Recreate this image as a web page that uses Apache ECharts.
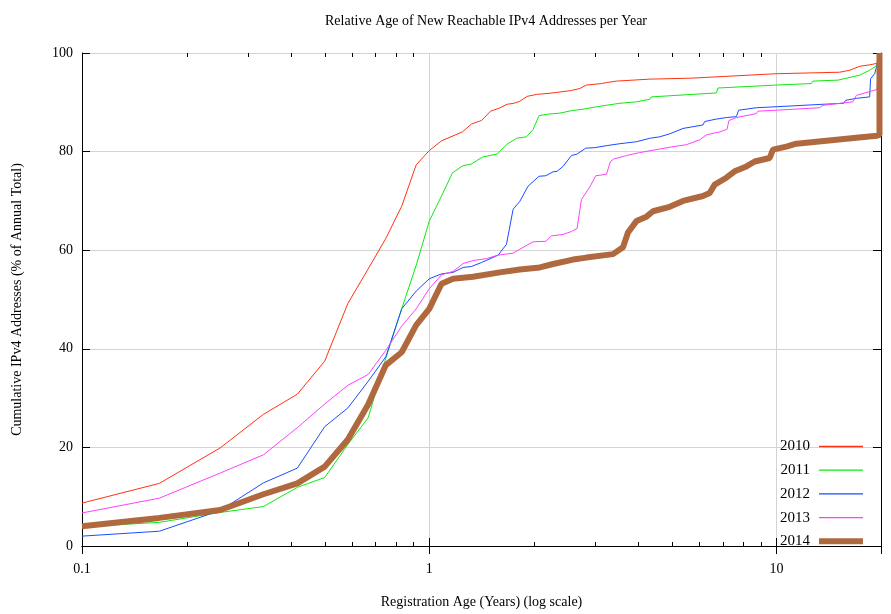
<!DOCTYPE html>
<html>
<head>
<meta charset="utf-8">
<title>Relative Age of New Reachable IPv4 Addresses per Year</title>
<script src="https://cdn.jsdelivr.net/npm/echarts@6/dist/echarts.min.js"></script>
<style>
  html, body { margin: 0; padding: 0; background: #fff; }
  #chart { width: 891px; height: 614px; }
</style>
</head>
<body>
<div id="chart"></div>
<script>
// [age in years, cumulative % of annual total]
var years = ['2010', '2011', '2012', '2013', '2014'];

var y2010 = [[0.1, 8.7], [0.167, 12.7], [0.25, 19.9], [0.333, 26.7], [0.417, 30.8], [0.5, 37.5],
    [0.583, 49.2], [0.667, 56.2], [0.75, 62.4], [0.833, 68.9], [0.917, 77.3], [1.0, 80.2],
    [1.085, 82.2], [1.247, 84.0], [1.323, 85.6], [1.414, 86.3], [1.502, 88.2], [1.59, 88.8],
    [1.676, 89.6], [1.752, 89.8], [1.823, 90.2], [1.914, 91.2], [2.037, 91.6], [2.199, 91.8],
    [2.325, 92.0], [2.568, 92.4], [2.714, 92.8], [2.836, 93.5], [3.133, 93.8], [3.239, 94.0],
    [3.46, 94.3], [4.315, 94.7], [5.7, 94.9], [5.75, 95.3], [10, 95.8], [15.2, 96.1],
    [16.25, 96.5], [17.35, 97.3], [18.55, 97.6], [19.47, 97.9], [19.8, 100]];

var y2011 = [[0.1, 3.9], [0.167, 4.8], [0.25, 6.8], [0.333, 8.0], [0.417, 11.9], [0.5, 13.9],
    [0.583, 20.6], [0.667, 26.0], [0.75, 38.1], [0.833, 48.1], [0.917, 56.9], [1.0, 65.9],
    [1.085, 71.0], [1.167, 75.7], [1.247, 77.1], [1.323, 77.5], [1.424, 78.9], [1.568, 79.5],
    [1.676, 81.5], [1.783, 82.7], [1.906, 83.0], [1.991, 84.5], [2.072, 87.3], [2.199, 87.6],
    [2.377, 87.8], [2.568, 88.3], [2.773, 88.6], [3.031, 89.1], [3.239, 89.4], [3.537, 89.8],
    [3.951, 90.1], [4.315, 90.6], [4.364, 91.1], [6.714, 91.9], [6.785, 92.9], [10, 93.5],
    [12.6, 93.8], [12.74, 94.3], [15.04, 94.5], [15.21, 94.9], [17.35, 95.5], [18.55, 96.5],
    [19.47, 97.5], [19.8, 100]];

var y2012 = [[0.1, 2.0], [0.167, 3.0], [0.25, 7.2], [0.333, 12.8], [0.417, 15.8], [0.5, 24.2],
    [0.583, 28.0], [0.667, 33.4], [0.75, 38.4], [0.833, 48.1], [0.917, 51.7], [1.0, 54.2],
    [1.085, 55.2], [1.171, 55.5], [1.252, 56.5], [1.323, 56.7], [1.414, 57.5], [1.579, 59.0],
    [1.669, 61.2], [1.744, 68.3], [1.823, 69.9], [1.926, 73.0], [2.072, 75.0], [2.166, 75.1],
    [2.273, 75.9], [2.334, 76.0], [2.429, 77.0], [2.568, 79.2], [2.665, 79.5], [2.823, 80.7],
    [2.997, 80.8], [3.239, 81.2], [3.537, 81.6], [3.951, 82.0], [4.315, 82.7], [4.611, 83.0],
    [4.927, 83.6], [5.381, 84.7], [5.442, 85.0], [6.143, 85.4], [6.213, 86.1], [6.714, 86.6],
    [7.174, 86.9], [7.666, 87.1], [7.783, 88.4], [8.755, 88.9], [10, 89.1], [13.61, 89.6],
    [15.62, 89.8], [15.82, 90.4], [16.98, 90.8], [18.55, 91.1], [18.67, 94.8], [19.18, 95.8],
    [19.47, 97.5], [19.8, 100]];

var y2013 = [[0.1, 6.7], [0.167, 9.7], [0.25, 14.8], [0.333, 18.5], [0.417, 24.0], [0.5, 28.8],
    [0.583, 32.6], [0.667, 34.8], [0.75, 39.7], [0.833, 44.6], [0.917, 48.1], [1.0, 52.2],
    [1.085, 55.0], [1.171, 55.7], [1.252, 57.3], [1.337, 57.9], [1.462, 58.3], [1.579, 59.0],
    [1.744, 59.4], [1.823, 60.2], [1.991, 61.7], [2.166, 61.8], [2.249, 62.9], [2.429, 63.2],
    [2.568, 63.8], [2.665, 64.4], [2.744, 70.3], [2.899, 72.8], [3.017, 75.1], [3.239, 75.4],
    [3.326, 78.0], [3.399, 78.5], [3.697, 79.2], [4.038, 79.8], [5.036, 81.0], [5.504, 81.4],
    [6.01, 82.4], [6.284, 83.4], [6.862, 84.0], [7.202, 84.5], [7.299, 86.3], [7.666, 86.9],
    [8.755, 87.7], [8.848, 88.2], [10, 88.4], [13.32, 88.9], [13.61, 89.4], [16.61, 90.1],
    [16.98, 91.4], [19.47, 92.6], [19.8, 100]];

var y2014 = [[0.1, 4.0], [0.167, 5.7], [0.25, 7.3], [0.333, 10.5], [0.417, 12.7], [0.5, 16.1],
    [0.583, 21.6], [0.667, 28.7], [0.75, 36.7], [0.833, 39.3], [0.917, 44.8], [1.0, 48.1],
    [1.085, 53.2], [1.171, 54.2], [1.337, 54.6], [1.597, 55.5], [1.823, 56.1], [2.082, 56.5],
    [2.273, 57.2], [2.596, 58.1], [2.836, 58.5], [3.383, 59.2], [3.614, 60.6], [3.736, 63.6],
    [3.951, 65.9], [4.222, 66.8], [4.411, 67.9], [4.927, 68.8], [5.381, 70.0], [6.143, 71.0],
    [6.423, 71.6], [6.637, 73.3], [7.174, 74.7], [7.58, 76.0], [8.192, 77.0], [8.656, 78.0],
    [9.56, 78.7], [9.77, 80.4], [10.68, 81.0], [11.41, 81.6], [13.92, 82.2], [16.98, 82.8],
    [19.47, 83.2], [19.8, 83.4], [19.8, 100]];

// gnuplot style minor ticks on the log axis
var minorTicks = [0.2, 0.3, 0.4, 0.5, 0.6, 0.7, 0.8, 0.9, 2, 3, 4, 5, 6, 7, 8, 9];

var colors = ['#ff3311', '#11e811', '#1a4cff', '#ff40ff', '#b0693e'];
var widths = [1, 1, 1, 1, 6];
var font = 'Liberation Serif';

function lineSeries(name, data, i) {
    return {
        name: name,
        type: 'line',
        data: data,
        symbol: 'none',
        color: colors[i],
        lineStyle: { color: colors[i], width: widths[i] },
        z: 4 + i
    };
}

// frame axis: black line + inward ticks, grid lines are drawn by separate axes underneath
function frameX(pos, extra) {
    var ax = {
        type: 'log', logBase: 10, min: 0.1, max: 20, position: pos, z: 3,
        axisLine: { show: true, lineStyle: { color: '#000', width: 1 } },
        axisTick: { show: true, inside: true, length: 8, lineStyle: { color: '#000' } },
        axisLabel: { show: false },
        splitLine: { show: false }
    };
    return Object.assign(ax, extra || {});
}
function frameY(pos, extra) {
    var ax = {
        type: 'value', min: 0, max: 100, interval: 20, position: pos, z: 3,
        axisLine: { show: true, lineStyle: { color: '#000', width: 1 } },
        axisTick: { show: true, inside: true, length: 8, lineStyle: { color: '#000' } },
        axisLabel: { show: false },
        splitLine: { show: false }
    };
    return Object.assign(ax, extra || {});
}
var gridLine = { show: true, lineStyle: { color: '#d4d4d4', width: 1 } };
var hidden = { show: false };

var myChart = echarts.init(document.getElementById('chart'));

var option = {
    animation: false,
    backgroundColor: '#fff',
    textStyle: { fontFamily: font, color: '#000' },
    title: {
        text: 'Relative Age of New Reachable IPv4 Addresses per Year',
        left: 481,
        textAlign: 'center',
        top: 9,
        textStyle: { fontFamily: font, fontSize: 14, fontWeight: 'normal', color: '#000' }
    },
    grid: { left: 82, right: 10, top: 53, bottom: 65 },
    legend: {
        orient: 'vertical',
        right: 23,
        top: 434,
        align: 'right',
        itemWidth: 44,
        itemHeight: 14,
        itemGap: 8.7,
        itemStyle: { borderWidth: 0 },
        textStyle: { fontFamily: font, fontSize: 15, color: '#000', padding: [0, 4, 0, 0] },
        data: years.map(function (y, i) {
            var h = i === 4 ? 6 : 1.3;
            return { name: y, icon: 'path://M0,0L44,0L44,' + h + 'L0,' + h + 'Z' };
        })
    },
    xAxis: [
        frameX('bottom', {
            name: 'Registration Age (Years) (log scale)',
            nameLocation: 'middle',
            nameGap: 49,
            nameTextStyle: { fontFamily: font, fontSize: 14, color: '#000' },
            axisLabel: { show: true, fontFamily: font, fontSize: 14, color: '#000', margin: 16, showMaxLabel: false }
        }),
        frameX('top'),
        frameX('bottom', { z: 0, axisLine: hidden, axisTick: hidden, splitLine: gridLine })
    ],
    yAxis: [
        frameY('left', {
            name: 'Cumulative IPv4 Addresses (% of Annual Total)',
            nameLocation: 'middle',
            nameGap: 58,
            nameTextStyle: { fontFamily: font, fontSize: 14, color: '#000' },
            axisLabel: { show: true, fontFamily: font, fontSize: 14, color: '#000', margin: 9 }
        }),
        frameY('right'),
        frameY('left', { z: 0, axisLine: hidden, axisTick: hidden, splitLine: gridLine })
    ],
    series: [
        lineSeries('2010', y2010, 0),
        lineSeries('2011', y2011, 1),
        lineSeries('2012', y2012, 2),
        lineSeries('2013', y2013, 3),
        lineSeries('2014', y2014, 4)
    ]
};

myChart.setOption(option);

// minor ticks at 2..9 of each decade, placed through the x axis scale
var yb = myChart.convertToPixel({ yAxisIndex: 0 }, 0);
var yt = myChart.convertToPixel({ yAxisIndex: 0 }, 100);
var tickMarks = [];
minorTicks.forEach(function (v) {
    var x = Math.round(myChart.convertToPixel({ xAxisIndex: 0 }, v)) + 0.5;
    tickMarks.push({ type: 'line', z: 20, silent: true,
        shape: { x1: x, y1: yb, x2: x, y2: yb - 4 }, style: { stroke: '#000', lineWidth: 1 } });
    tickMarks.push({ type: 'line', z: 20, silent: true,
        shape: { x1: x, y1: yt, x2: x, y2: yt + 4 }, style: { stroke: '#000', lineWidth: 1 } });
});
myChart.setOption({ graphic: tickMarks });
</script>
</body>
</html>
